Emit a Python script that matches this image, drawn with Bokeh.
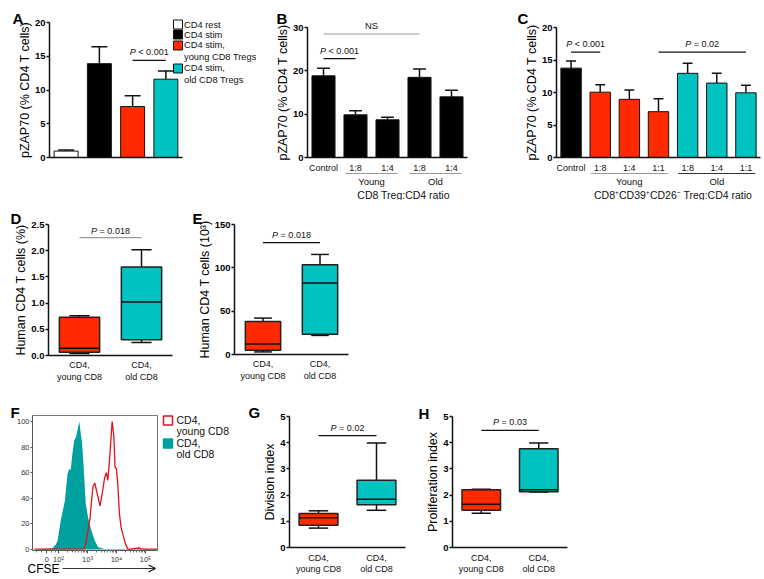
import math
from bokeh.plotting import figure
from bokeh.layouts import column, row
from bokeh.models import Range1d, FixedTicker, Arrow, OpenHead
from bokeh.core.properties import value
from bokeh.embed import file_html
from bokeh.resources import INLINE

FONT = "Liberation Sans"
INK = "#111111"
GREY = "#9a9a9a"
RED = "#ff2a00"
CYAN = "#00c2c0"
TEAL = "#00a09e"
HRED = "#e3121b"

# ---------------- data ----------------
# A: pZAP70 (% CD4 T cells)
a_names = ["CD4 rest", "CD4 stim", "CD4 stim,\nyoung CD8 Tregs", "CD4 stim,\nold CD8 Tregs"]
a_mean = [0.95, 13.9, 7.55, 11.6]
a_sem = [0.15, 2.5, 1.6, 1.2]
a_sig = [(2, 3, 14.4, "P < 0.001")]

# B
b_ticks = ["Control", "1:8", "1:4", "1:8", "1:4"]
b_mean = [18.85, 9.85, 8.7, 18.5, 14.0]
b_sem = [1.75, 0.95, 0.6, 1.9, 1.5]
b_groups = [("Young", [1, 2]), ("Old", [3, 4])]
b_title = "CD8 Treg:CD4 ratio"
b_sig = [(0, 3, 28.5, "NS"), (0, 1, 22.8, "P < 0.001")]

# C
c_ticks = ["Control", "1:8", "1:4", "1:1", "1:8", "1:4", "1:1"]
c_mean = [13.75, 10.05, 8.95, 7.05, 12.95, 11.45, 9.95]
c_sem = [1.1, 1.15, 1.45, 2.0, 1.55, 1.5, 1.15]
c_groups = [("Young", [1, 2, 3]), ("Old", [4, 5, 6])]
c_title = "CD8⁺CD39⁺CD26⁻ Treg:CD4 ratio"
c_sig = [(0, 1, 16.2, "P < 0.001"), (3, 6, 16.2, "P = 0.02")]

box_names = ["CD4,\nyoung CD8", "CD4,\nold CD8"]
# box stats: [low whisker, Q1, median, Q3, high whisker]
d_stats = [[0.04, 0.06, 0.14, 0.73, 0.76], [0.25, 0.30, 1.02, 1.69, 2.02]]
d_sig = [(0, 1, 2.25, "P = 0.018")]
e_stats = [[3, 5, 12, 38, 42], [22, 23.5, 82.5, 103.5, 115.5]]
e_sig = [(0, 1, 129, "P = 0.018")]
g_stats = [[0.74, 0.85, 1.14, 1.30, 1.40], [1.42, 1.63, 1.84, 2.57, 3.99]]
g_sig = [(0, 1, 4.27, "P = 0.02")]
h_stats = [[1.31, 1.42, 1.65, 2.20, 2.22], [2.12, 2.13, 2.20, 3.77, 3.99]]
h_sig = [(0, 1, 4.47, "P = 0.03")]

# F: CFSE histogram (x in decades of the display scale, y in % of max)
cfse_ticks = [1.6, 2, 3, 4, 5]
cfse_tick_labels = ["0", "10²", "10³", "10⁴", "10⁵"]
f_names = ["CD4,\nyoung CD8", "CD4,\nold CD8"]
old_u = [1.17, 1.79, 1.91, 1.97, 2.08, 2.22, 2.31, 2.37, 2.42, 2.48, 2.54, 2.61, 2.65,
         2.72, 2.77, 2.81, 2.86, 2.94, 3.02, 3.13, 3.25, 3.36, 3.57, 4.68, 4.76, 4.84, 5.40]
old_pct = [0, 1, 4, 7, 23, 38, 59, 63, 62, 75, 85, 88, 93,
           100, 90, 84, 67, 36, 25, 15, 7, 2, 0.3, 0.3, 1.5, 0.3, 0]
young_u = [1.17, 2.88, 2.94, 3.02, 3.09, 3.13, 3.19, 3.25, 3.34, 3.43, 3.51, 3.59, 3.65,
           3.70, 3.76, 3.82, 3.85, 3.91, 3.95, 4.00, 4.05, 4.10, 4.16, 4.23, 4.31, 4.39,
           4.48, 4.77, 4.89, 5.40]
young_pct = [0.3, 0.5, 4.4, 14.8, 25, 36, 49, 52, 43, 34, 44, 56, 60,
             54, 70, 90, 100, 88, 64, 63, 49, 28, 17, 11, 4.4, 0.5,
             0.3, 1.2, 0.3, 0.3]


# ---------------- helpers ----------------
def make_panel(fig, xcal, ycal, axis_px, xaxis_py=None):
    fx0, fy0, fx1, fy1 = fig
    (xa, va), (xb, vb) = xcal
    (ya, wa), (yb, wb) = ycal
    kx = (vb - va) / (xb - xa)
    ky = (wb - wa) / (yb - ya)
    X = lambda px: va + (px - xa) * kx
    Y = lambda py: wa + (py - ya) * ky
    p = figure(width=fx1 - fx0, height=fy1 - fy0,
               x_range=Range1d(X(fx0), X(fx1)), y_range=Range1d(Y(fy1), Y(fy0)),
               min_border_left=0, min_border_right=0, min_border_top=0, min_border_bottom=0,
               x_axis_type="linear" if xaxis_py is not None else None,
               toolbar_location=None, output_backend="svg")
    p.outline_line_color = None
    p.grid.grid_line_color = None
    p.background_fill_color = "white"
    p.border_fill_color = "white"
    p.yaxis[0].fixed_location = X(axis_px)
    if xaxis_py is not None:
        p.xaxis[0].fixed_location = Y(xaxis_py)
    return p, X, Y


def txt(p, xs, ys, texts, size, align="center", baseline="middle", xoff=0, yoff=0,
        style="normal", color=INK, angle=0):
    p.text(x=xs, y=ys, text=texts, text_font=value(FONT), text_font_size=size,
           text_align=align, text_baseline=baseline, x_offset=xoff, y_offset=yoff,
           text_font_style=style, text_color=color, angle=angle)


def letter(p, X, Y, s, px, py_base):
    txt(p, [X(px)], [Y(py_base)], [s], "15px", align="left", baseline="alphabetic",
        style="bold", color="black")


def style_y(p, ticks, label, labels=None, size="9.5px", bold=True, lw=1.5, color=INK):
    ax = p.yaxis[0]
    ax.ticker = FixedTicker(ticks=ticks, minor_ticks=[])
    ax.bounds = (ticks[0], ticks[-1])
    ax.axis_label = label
    ax.axis_label_text_font = FONT
    ax.axis_label_text_font_size = "12.5px"
    ax.axis_label_text_font_style = "normal"
    ax.axis_label_text_color = "black"
    ax.axis_label_standoff = 0
    ax.major_label_text_font = FONT
    ax.major_label_text_font_size = size
    ax.major_label_text_font_style = "bold" if bold else "normal"
    ax.major_label_text_color = "black" if bold else "#333333"
    ax.major_label_standoff = 1
    ax.major_tick_out = 3
    ax.major_tick_in = 0
    ax.minor_tick_line_color = None
    ax.axis_line_width = lw
    ax.major_tick_line_width = lw
    ax.axis_line_color = color
    ax.major_tick_line_color = color
    if labels is not None:
        ax.major_label_overrides = {t: l for t, l in zip(ticks, labels)}


CW = {" ": 0.278, "\u00a0": 0.278, "<": 0.584, "=": 0.584, ".": 0.278, "P": 0.667}


def sig(p, items, colors, fs=9, yoff=-8):
    for (i, j, y, s), col in zip(items, colors):
        p.segment(x0=[i], y0=[y], x1=[j], y1=[y], line_color=col, line_width=1.2)
        xc = (i + j) / 2
        if s.startswith("P "):
            rest = "\u00a0" + s[2:].replace(" ", "\u00a0")
            wp = CW["P"] * fs
            wr = sum(CW.get(c, 0.556) for c in rest) * fs
            left = -(wp + wr) / 2
            txt(p, [xc], [y], ["P"], f"{fs}px", align="left", xoff=left, yoff=yoff, style="italic")
            txt(p, [xc], [y], [rest], f"{fs}px", align="left", xoff=left + wp, yoff=yoff)
        else:
            txt(p, [xc], [y], [s], f"{fs + 0.5}px", yoff=yoff - 1)


def bars(p, mean, sem, fills, width=0.7, cap=0.2):
    idx = list(range(len(mean)))
    tops = [m + s for m, s in zip(mean, sem)]
    p.vbar(x=idx, top=mean, bottom=0, width=width, fill_color=fills, line_color=INK, line_width=1)
    p.segment(x0=idx, y0=mean, x1=idx, y1=tops, line_color=INK, line_width=1.5)
    p.segment(x0=[i - cap for i in idx], y0=tops, x1=[i + cap for i in idx], y1=tops,
              line_color=INK, line_width=1.5)
    p.segment(x0=[-0.5], y0=[0], x1=[len(mean) - 0.5], y1=[0], line_color=INK, line_width=1.5)


def boxes(p, stats, fills, width=0.66):
    idx = list(range(len(stats)))
    low, q1, med, q3, high = [list(c) for c in zip(*stats)]
    cw = width / 4
    p.segment(x0=idx, y0=q3, x1=idx, y1=high, line_color=INK, line_width=1.5)
    p.segment(x0=idx, y0=low, x1=idx, y1=q1, line_color=INK, line_width=1.5)
    p.segment(x0=[i - cw for i in idx], y0=high, x1=[i + cw for i in idx], y1=high,
              line_color=INK, line_width=1.5)
    p.segment(x0=[i - cw for i in idx], y0=low, x1=[i + cw for i in idx], y1=low,
              line_color=INK, line_width=1.5)
    p.vbar(x=idx, bottom=q1, top=q3, width=width, fill_color=fills, line_color="#222222",
           line_width=1.5)
    p.segment(x0=[i - width / 2 for i in idx], y0=med, x1=[i + width / 2 for i in idx], y1=med,
              line_color=INK, line_width=1.5)
    p.segment(x0=[-0.5], y0=[0], x1=[len(stats) - 0.5], y1=[0], line_color=INK, line_width=1.5)


def two_line_ticks(p, names, off1, off2, fs="9px"):
    idx = list(range(len(names)))
    first = [n.split("\n")[0] for n in names]
    second = [n.split("\n")[1] for n in names]
    txt(p, idx, [0] * len(idx), first, fs, yoff=off1)
    txt(p, idx, [0] * len(idx), second, fs, yoff=off2)


def grouped_axis(p, Y, ticks, groups, title, line_cols):
    idx = list(range(len(ticks)))
    txt(p, idx, [0] * len(idx), ticks, "9px", yoff=10)
    yl = Y(173)
    for (name, members), col in zip(groups, line_cols):
        p.segment(x0=[members[0] - 0.32], y0=[yl], x1=[members[-1] + 0.32], y1=[yl],
                  line_color=col, line_width=1.2)
        txt(p, [sum(members) / len(members)], [0], [name], "9.5px", yoff=24)
    allm = [m for _, ms in groups for m in ms]
    txt(p, [(allm[0] + allm[-1]) / 2], [0], [title], "10.5px", yoff=37)


# ---------------- Panel A ----------------
pA, X, Y = make_panel((0, 0, 256, 200), ((49, -0.5), (182, 3.5)), ((157, 0), (22, 20)), 49)
style_y(pA, [0, 5, 10, 15, 20], "pZAP70 (% CD4 T cells)")
bars(pA, a_mean, a_sem, ["#ffffff", "#000000", RED, CYAN], width=0.72, cap=0.24)
sig(pA, a_sig, [INK])
leg_fill = ["#ffffff", "#000000", RED, CYAN]
yt = 24
for name, col in zip(a_names, leg_fill):
    lines = name.split("\n")
    pA.scatter(x=[X(177.5)], y=[Y(yt + (1 if len(lines) > 1 else 0))], marker="square", size=9,
               fill_color=col, line_color=INK, line_width=1)
    for k, ln in enumerate(lines):
        txt(pA, [X(183.5)], [Y(yt + 12.5 * k)], [ln], "9.3px", align="left")
    yt += 10 + 13 * (len(lines) - 1)
letter(pA, X, Y, "A", 12, 18)

# ---------------- Panel B ----------------
pB, X, Y = make_panel((256, 0, 500, 200), ((307, -0.5), (467, 4.5)), ((157, 0), (27, 30)), 307)
style_y(pB, [0, 10, 20, 30], "pZAP70 (% CD4 T cells)")
bars(pB, b_mean, b_sem, ["#000000"] * len(b_mean), width=0.72, cap=0.2)
sig(pB, b_sig, [GREY, INK])
grouped_axis(pB, Y, b_ticks, b_groups, b_title, [GREY, GREY])
letter(pB, X, Y, "B", 276, 18)

# ---------------- Panel C ----------------
pC, X, Y = make_panel((500, 0, 762, 200), ((556, -0.5), (760, 6.5)), ((157, 0), (27, 20)), 556)
style_y(pC, [0, 5, 10, 15, 20], "pZAP70 (% CD4 T cells)")
bars(pC, c_mean, c_sem, ["#000000"] + [RED] * 3 + [CYAN] * 3, width=0.7, cap=0.17)
sig(pC, c_sig, [INK, INK])
grouped_axis(pC, Y, c_ticks, c_groups, c_title, [GREY, "#333333"])
letter(pC, X, Y, "C", 517, 18)

# ---------------- Panel D ----------------
pD, X, Y = make_panel((0, 200, 190, 395), ((48, -0.5), (172, 1.5)), ((355, 0), (224, 2.5)), 48)
d_ticks = [0.0, 0.5, 1.0, 1.5, 2.0, 2.5]
style_y(pD, d_ticks, "Human CD4 T cells (%)", labels=[f"{t:.1f}" for t in d_ticks])
boxes(pD, d_stats, [RED, CYAN], width=0.65)
sig(pD, d_sig, [GREY], yoff=-7)
two_line_ticks(pD, box_names, 9, 21)
letter(pD, X, Y, "D", 10, 218)

# ---------------- Panel E ----------------
pE, X, Y = make_panel((190, 200, 380, 395), ((234, -0.5), (348, 1.5)), ((354, 0), (224, 150)), 234)
style_y(pE, [0, 50, 100, 150], "Human CD4 T cells (10³)")
boxes(pE, e_stats, [RED, CYAN], width=0.62)
sig(pE, e_sig, [INK])
two_line_ticks(pE, box_names, 9, 21)
letter(pE, X, Y, "E", 192, 218)

# ---------------- Panel F ----------------
pF, X, Y = make_panel((0, 395, 245, 577), ((58, 2), (145, 5)), ((549, 0), (421, 100)), 32, xaxis_py=550)
style_y(pF, [0, 20, 40, 60, 80, 100], "", size="7.5px", bold=False, lw=1, color="#555555")
pF.yaxis[0].bounds = (Y(550), Y(415))
pF.yaxis[0].major_tick_out = 2
xa = pF.xaxis[0]
minors = [d + math.log10(k) for d in (2, 3, 4) for k in range(2, 10)] + [1.25, 1.4, 1.75, 1.88]
xa.ticker = FixedTicker(ticks=cfse_ticks, minor_ticks=minors)
xa.major_label_overrides = dict(zip(cfse_ticks, cfse_tick_labels))
xa.bounds = (X(32), X(157))
xa.major_label_text_font = FONT
xa.major_label_text_font_size = "7.5px"
xa.major_label_text_color = "#333333"
xa.major_label_standoff = 1
xa.major_tick_out = 3
xa.major_tick_in = 0
xa.minor_tick_out = 2
xa.minor_tick_in = 0
xa.axis_line_color = "#555555"
xa.major_tick_line_color = "#555555"
xa.minor_tick_line_color = "#777777"
pF.varea(x=old_u, y1=0, y2=old_pct, fill_color=TEAL)
pF.line(x=young_u, y=young_pct, line_color=HRED, line_width=1.3)
pF.segment(x0=[X(32)], y0=[Y(415)], x1=[X(157)], y1=[Y(415)], line_color="#777777", line_width=1)
pF.segment(x0=[X(157)], y0=[Y(415)], x1=[X(157)], y1=[Y(550)], line_color="#777777", line_width=1)
yt = 420
for name, fc, lc in zip(f_names, ["#ffffff", TEAL], [HRED, TEAL]):
    lines = name.split("\n")
    pF.scatter(x=[X(167.5)], y=[Y(yt)], marker="square", size=9, fill_color=fc,
               line_color=lc, line_width=1.5)
    for k, ln in enumerate(lines):
        txt(pF, [X(176)], [Y(yt - 1 + 11 * k)], [ln], "10.5px", align="left")
    yt += 23
txt(pF, [X(27)], [Y(568)], ["CFSE"], "12px", align="left", color="black")
pF.add_layout(Arrow(end=OpenHead(size=7, line_width=1.3, line_color=INK),
                    x_start=X(62), y_start=Y(568), x_end=X(155), y_end=Y(568),
                    line_width=1.2, line_color="#333333"))
letter(pF, X, Y, "F", 10, 412)

# ---------------- Panel G ----------------
pG, X, Y = make_panel((245, 395, 410, 577), ((289, -0.5), (405, 1.5)), ((547, 0), (416, 5)), 289)
style_y(pG, [0, 1, 2, 3, 4, 5], "Division index")
boxes(pG, g_stats, [RED, CYAN], width=0.67)
sig(pG, g_sig, [INK])
two_line_ticks(pG, box_names, 10, 21)
letter(pG, X, Y, "G", 248, 412)

# ---------------- Panel H ----------------
pH, X, Y = make_panel((410, 395, 575, 577), ((452, -0.5), (567, 1.5)), ((547, 0), (416, 5)), 452)
style_y(pH, [0, 1, 2, 3, 4, 5], "Proliferation index")
boxes(pH, h_stats, [RED, CYAN], width=0.67)
sig(pH, h_sig, [INK])
two_line_ticks(pH, box_names, 10, 21)
letter(pH, X, Y, "H", 418, 413)

layout = column(row(pA, pB, pC), row(pD, pE), row(pF, pG, pH))
open("out.html", "w").write(file_html(layout, INLINE))
